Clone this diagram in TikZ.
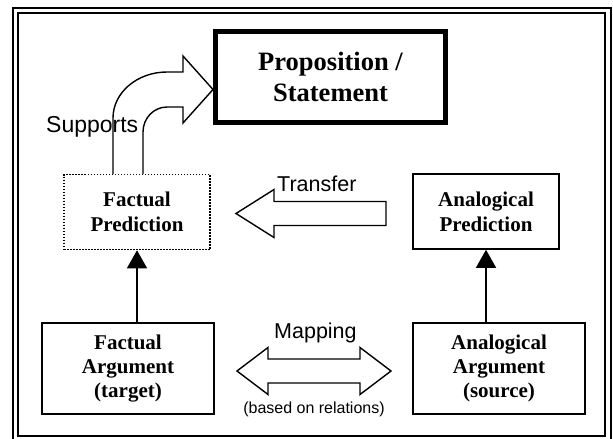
\documentclass[tikz,border=0pt]{standalone}
\usepackage{fontspec}
\setmainfont{Liberation Serif}
\newfontfamily\sansf{Liberation Sans}
\usetikzlibrary{arrows.meta}
\begin{document}
\begin{tikzpicture}[x=1pt,y=-1pt,
  box/.style={draw, line width=1.6pt, inner sep=0pt, align=center,
    font=\bfseries\fontsize{21}{24}\selectfont},
  predbox/.style={box, font=\bfseries\fontsize{21}{25}\selectfont},
  propbox/.style={draw, line width=5pt, inner sep=0pt, align=center,
    font=\bfseries\fontsize{26.5}{31.5}\selectfont},
  conn/.style={line width=1.6pt, -{Triangle[length=18pt,width=20pt]}},
  blockarrow/.style={draw, line width=1.4pt, fill=white, line join=miter},
  lbl/.style={inner sep=0pt, font=\sansf\fontsize{21.5}{24}\selectfont},
  suplbl/.style={inner sep=0pt, font=\sansf\fontsize{23}{26}\selectfont},
  smalllbl/.style={inner sep=0pt, font=\sansf\fontsize{16}{18}\selectfont},
  frameline/.style={draw, line width=2pt}
]
\useasboundingbox (0,0) rectangle (613,439);
\fill[white] (0,0) rectangle (613,439);

% double frame
\draw[frameline] (13.3,7.7) rectangle (611,445);
\draw[frameline] (17.7,13) rectangle (605,436);

% nodes
\node[propbox, minimum width=230pt, minimum height=91pt] (prop) at (330.5,77) {Proposition /\\Statement};
\node[predbox, dash pattern=on 1.5pt off 1.5pt, minimum width=146pt, minimum height=75pt] (fp) at (137,212) {Factual\\Prediction};
\node[predbox, minimum width=146pt, minimum height=75pt] (ap) at (486,211.5) {Analogical\\Prediction};
\node[box, minimum width=172pt, minimum height=91pt] (fa) at (128,368.5) {Factual\\Argument\\(target)};
\node[box, minimum width=172pt, minimum height=91pt] (aa) at (499,368.5) {Analogical\\Argument\\(source)};

% connectors
\draw[conn] (fp.south |- fa.north) -- (fp.south);
\draw[conn] (ap.south |- aa.north) -- (ap.south);

% supports bent block arrow
\draw[blockarrow] (113,174) -- (113,118)
  arc[start angle=180, end angle=270, x radius=54, y radius=46]
  -- (183,72) -- (183,56) -- (213,89.5) -- (183,123) -- (183,107) -- (167,107)
  arc[start angle=270, end angle=180, x radius=24, y radius=25]
  -- (143,174);
\node[suplbl, anchor=base west] (sup) at (46,132) {Supports};

% transfer block arrow
\draw[blockarrow] (386,201.5) -- (274,201.5) -- (274,189.5) -- (236,213.5)
  -- (274,237.5) -- (274,225.5) -- (386,225.5) -- cycle;
\node[lbl, anchor=base west] (tr) at (277,191.7) {Transfer};

% mapping double block arrow
\draw[blockarrow] (237,371) -- (268,347.5) -- (268,359) -- (360,359) -- (360,347.5)
  -- (391,371) -- (360,394.5) -- (360,383) -- (268,383) -- (268,394.5) -- cycle;
\node[lbl, anchor=base west] (map) at (274,338) {Mapping};
\node[smalllbl, anchor=base] (rel) at (314,413) {(based on relations)};
\end{tikzpicture}
\end{document}
